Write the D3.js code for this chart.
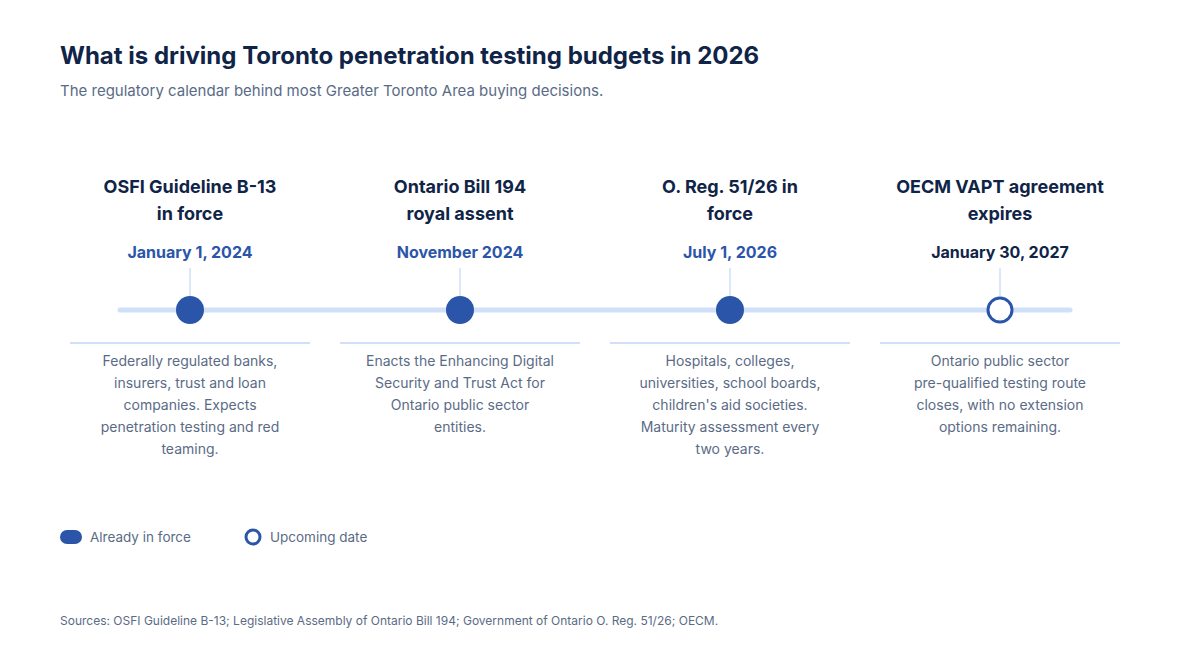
<!DOCTYPE html>
<html><head><meta charset="utf-8">
<script src="https://d3js.org/d3.v7.min.js"></script>
<style>body{margin:0;background:#fff;font-family:Inter,"Noto Sans",sans-serif}</style>
</head><body><svg id="c" width="1200" height="660"></svg>
<script>
const events = ["OSFI", "Bill194", "Reg51", "OECM"]
const titles = [["OSFI Guideline B-13","in force"],["Ontario Bill 194","royal assent"],["O. Reg. 51/26 in","force"],["OECM VAPT agreement","expires"]]
const dates = ["January 1, 2024","November 2024","July 1, 2026","January 30, 2027"]
const inForce = [true, true, true, false]
const notes = [
  ["Federally regulated banks,","insurers, trust and loan","companies. Expects","penetration testing and red","teaming."],
  ["Enacts the Enhancing Digital","Security and Trust Act for","Ontario public sector","entities."],
  ["Hospitals, colleges,","universities, school boards,","children's aid societies.","Maturity assessment every","two years."],
  ["Ontario public sector","pre-qualified testing route","closes, with no extension","options remaining."]
]

const svg = d3.select("#c")
const blue = "#2b55a8", light = "#cfe0f8", navy = "#0f2447", grey = "#5a6b86"
const x = d3.scalePoint().domain(events).range([190, 1000])
const lineY = 310

svg.append("text").attr("x",60).attr("y",64).attr("fill",navy).attr("font-size",24).attr("font-weight",700).text("What is driving Toronto penetration testing budgets in 2026")
svg.append("text").attr("x",60).attr("y",96).attr("fill",grey).attr("font-size",15).text("The regulatory calendar behind most Greater Toronto Area buying decisions.")

svg.append("line").attr("x1",120).attr("x2",1070).attr("y1",lineY).attr("y2",lineY)
  .attr("stroke",light).attr("stroke-width",5).attr("stroke-linecap","round")

const g = svg.selectAll("g.ev").data(events).join("g").attr("class","ev")
  .attr("transform", d => `translate(${x(d)},0)`)

g.append("line").attr("y1",268).attr("y2",296).attr("stroke",light).attr("stroke-width",1.5)
g.append("line").attr("x1",-120).attr("x2",120).attr("y1",343).attr("y2",343).attr("stroke",light).attr("stroke-width",2)

g.each(function(d,i){
  const s = d3.select(this)
  titles[i].forEach((t,j) => s.append("text").attr("y",193+j*27).attr("text-anchor","middle")
    .attr("fill",navy).attr("font-size",18).attr("font-weight",700).text(t))
  s.append("text").attr("y",258).attr("text-anchor","middle").attr("font-size",16).attr("font-weight",700)
    .attr("fill", inForce[i] ? blue : navy).text(dates[i])
  s.append("circle").attr("cy",lineY).attr("r", inForce[i] ? 14 : 12)
    .attr("fill", inForce[i] ? blue : "#fff").attr("stroke",blue).attr("stroke-width", inForce[i] ? 0 : 3)
  notes[i].forEach((t,j) => s.append("text").attr("y",366+j*22).attr("text-anchor","middle")
    .attr("fill",grey).attr("font-size",14).text(t))
})

// legend
svg.append("rect").attr("x",60).attr("y",530).attr("width",22).attr("height",14).attr("rx",7).attr("fill",blue)
svg.append("text").attr("x",90).attr("y",542).attr("fill",grey).attr("font-size",13.5).text("Already in force")
svg.append("circle").attr("cx",253).attr("cy",537).attr("r",7).attr("fill","#fff").attr("stroke",blue).attr("stroke-width",3)
svg.append("text").attr("x",270).attr("y",542).attr("fill",grey).attr("font-size",13.5).text("Upcoming date")

svg.append("text").attr("x",60).attr("y",625).attr("fill",grey).attr("font-size",12)
  .text("Sources: OSFI Guideline B-13; Legislative Assembly of Ontario Bill 194; Government of Ontario O. Reg. 51/26; OECM.")
</script></body></html>
